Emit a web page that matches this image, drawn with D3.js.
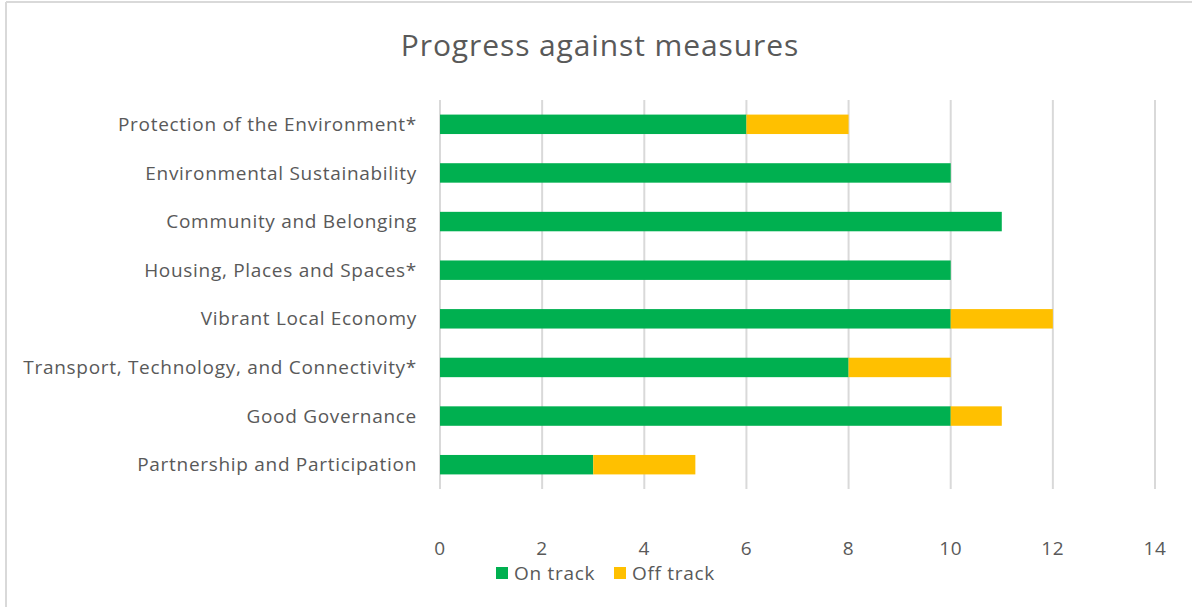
<!DOCTYPE html>
<html lang="en">
<head>
    <meta charset="UTF-8">
    <title>Progress against measures</title>
    <script src="https://cdn.jsdelivr.net/npm/d3@7"></script>
    <style>
        body{
            margin: 0;
            background: #fff;
        }
        #svg_main{
            width: 1192px;
            height: 607px;
            display: block;
        }
        text{
            font-family: "Open Sans", "Noto Sans", sans-serif;
            fill: #595959;
        }
        .title{
            font-size: 30px;
            letter-spacing: 0.9px;
        }
        .cat-label, .tick-label, .legend-label{
            font-size: 19px;
            letter-spacing: 0.7px;
        }
        .grid line{
            stroke: #d9d9d9;
            stroke-width: 2px;
        }
    </style>
</head>
<body>
<svg id="svg_main"></svg>
<script>
    // chart values
    const categories = [
        'Protection of the Environment*',
        'Environmental Sustainability',
        'Community and Belonging',
        'Housing, Places and Spaces*',
        'Vibrant Local Economy',
        'Transport, Technology, and Connectivity*',
        'Good Governance',
        'Partnership and Participation'
    ];
    const onTrack  = [6, 10, 11, 10, 10, 8, 10, 3];
    const offTrack = [2, 0, 0, 0, 2, 2, 1, 2];
    const xTicks = [0, 2, 4, 6, 8, 10, 12, 14];
    const seriesNames = ['On track', 'Off track'];
    const seriesColors = ['#00b050', '#ffc000'];

    const width = 1192;
    const height = 607;

    let svg = d3.select('#svg_main').attr('viewBox', [0, 0, width, height]);

    // outer chart border (only top and left are visible in the crop)
    svg.append('line').attr('x1', 6).attr('y1', 2).attr('x2', width).attr('y2', 2)
        .attr('stroke', '#d9d9d9').attr('stroke-width', 2);
    svg.append('line').attr('x1', 6).attr('y1', 2).attr('x2', 6).attr('y2', height)
        .attr('stroke', '#d9d9d9').attr('stroke-width', 2);

    svg.append('text')
        .attr('class', 'title')
        .attr('x', 600)
        .attr('y', 56)
        .attr('text-anchor', 'middle')
        .text('Progress against measures');

    let xScale = d3.scaleLinear().domain([0, 14]).range([440, 1155]);
    let yScale = d3.scaleBand().domain(categories).range([100, 489]).paddingInner(0.6).paddingOuter(0.3);

    // gridlines
    svg.append('g').attr('class', 'grid')
        .selectAll('line').data(xTicks).enter()
        .append('line')
        .attr('x1', d => xScale(d)).attr('x2', d => xScale(d))
        .attr('y1', 100).attr('y2', 489);

    // tick labels
    svg.append('g').selectAll('text').data(xTicks).enter()
        .append('text')
        .attr('class', 'tick-label')
        .attr('x', d => xScale(d))
        .attr('y', 555)
        .attr('text-anchor', 'middle')
        .text(d => d);

    // category labels
    svg.append('g').selectAll('text').data(categories).enter()
        .append('text')
        .attr('class', 'cat-label')
        .attr('x', 417)
        .attr('y', d => yScale(d) + yScale.bandwidth() / 2)
        .attr('dy', '0.35em')
        .attr('text-anchor', 'end')
        .text(d => d);

    // stacked bars
    let stacked = categories.map((c, i) => ({cat: c, on: onTrack[i], off: offTrack[i]}));
    let stack = d3.stack().keys(['on', 'off'])(stacked);

    svg.append('g').selectAll('g').data(stack).enter()
        .append('g')
        .attr('fill', (d, i) => seriesColors[i])
        .selectAll('rect').data(d => d).enter()
        .append('rect')
        .attr('x', d => xScale(d[0]))
        .attr('y', d => yScale(d.data.cat))
        .attr('width', d => xScale(d[1]) - xScale(d[0]))
        .attr('height', yScale.bandwidth());

    // legend
    let legend = svg.append('g');
    let legendX = [496, 614];
    seriesNames.forEach((name, i) => {
        legend.append('rect')
            .attr('x', legendX[i]).attr('y', 567)
            .attr('width', 12).attr('height', 12)
            .attr('fill', seriesColors[i]);
        legend.append('text')
            .attr('class', 'legend-label')
            .attr('x', legendX[i] + 18)
            .attr('y', 573)
            .attr('dy', '0.35em')
            .text(name);
    });
</script>
</body>
</html>
